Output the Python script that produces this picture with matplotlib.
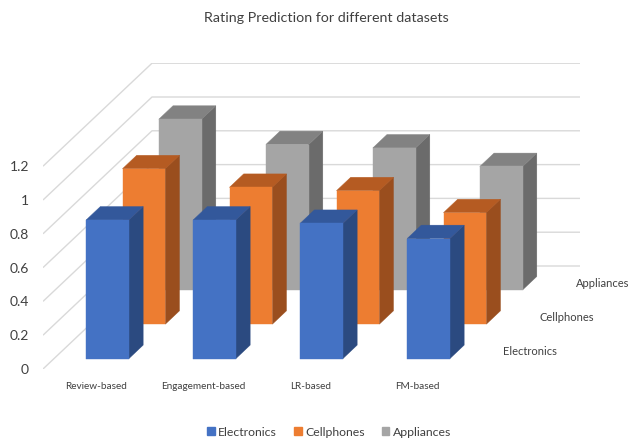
import matplotlib.pyplot as plt
from matplotlib.patches import Polygon, Patch

plt.rcParams['font.family'] = ['Lato', 'DejaVu Sans']

# ---- data ----
categories = ["Review-based", "Engagement-based", "LR-based", "FM-based"]
series = ["Electronics", "Cellphones", "Appliances"]
electronics = [0.82, 0.82, 0.80, 0.71]
cellphones = [0.92, 0.81, 0.79, 0.66]
appliances = [1.01, 0.86, 0.84, 0.73]
y_ticks = [0, 0.2, 0.4, 0.6, 0.8, 1.0, 1.2]
y_tick_labels = ["0", "0.2", "0.4", "0.6", "0.8", "1", "1.2"]

# (front, top, side) shades for each series
face_colors = {
    "Electronics": ("#4472C4", "#33589B", "#2B4A80"),
    "Cellphones": ("#ED7D31", "#B55B22", "#9A4E1E"),
    "Appliances": ("#A5A5A5", "#828282", "#6B6B6B"),
}

# ---- oblique projection of the 3D box ----
DEPTH_X = 109 / 107   # shift in category units for full depth
DEPTH_Y = 103 / 169   # shift in value units for full depth
BAR_W = 0.40
BAR_D = 0.13
GRID_C = "#D9D9D9"
TEXT_C = "#404040"


def proj(x, y, d):
    return (x + d * DEPTH_X, y + d * DEPTH_Y)


fig = plt.figure(figsize=(6.31, 4.40), dpi=100)
ax = fig.add_axes([43 / 631, 71 / 440, 537 / 631, 306 / 440])
ax.set_xlim(0, 537 / 107)
ax.set_ylim(0, 306 / 169)
n_cat = len(categories)

# walls: left side diagonals and back wall lines
for v in y_ticks:
    x0, y0 = proj(0, v, 0)
    x1, y1 = proj(0, v, 1)
    x2, y2 = proj(n_cat, v, 1)
    ax.plot([x0, x1, x2], [y0, y1, y2], color=GRID_C, lw=1.0, zorder=1,
            solid_capstyle="butt")

# bars, back row first
values = {"Electronics": electronics, "Cellphones": cellphones, "Appliances": appliances}
for r in reversed(range(len(series))):
    name = series[r]
    front_c, top_c, side_c = face_colors[name]
    d0 = (r + 0.5) / len(series) - BAR_D / 2
    d1 = d0 + BAR_D
    for i, v in enumerate(values[name]):
        xl = i + 0.5 - BAR_W / 2
        xr = xl + BAR_W
        front = [proj(xl, 0, d0), proj(xr, 0, d0), proj(xr, v, d0), proj(xl, v, d0)]
        top = [proj(xl, v, d0), proj(xr, v, d0), proj(xr, v, d1), proj(xl, v, d1)]
        side = [proj(xr, 0, d0), proj(xr, 0, d1), proj(xr, v, d1), proj(xr, v, d0)]
        z = 10 + (len(series) - r) * 3
        ax.add_patch(Polygon(side, closed=True, fc=side_c, ec=side_c, lw=0.3, zorder=z))
        ax.add_patch(Polygon(top, closed=True, fc=top_c, ec=top_c, lw=0.3, zorder=z + 1))
        ax.add_patch(Polygon(front, closed=True, fc=front_c, ec=front_c, lw=0.3, zorder=z + 2))

    # series name along the right edge of the floor
    lx, ly = proj(n_cat, 0, (r + 0.5) / len(series))
    ax.text(lx + 0.13, ly, name, ha="left", va="center", fontsize=8,
            color=TEXT_C, zorder=30)

# axes text
ax.set_xticks([i + 0.5 for i in range(n_cat)])
ax.set_xticklabels(categories, fontsize=7.2, color=TEXT_C)
ax.set_yticks(y_ticks)
ax.set_yticklabels(y_tick_labels, fontsize=10, color=TEXT_C)
ax.tick_params(axis="x", length=0, pad=9)
ax.tick_params(axis="y", length=0, pad=10)
for s in ax.spines.values():
    s.set_visible(False)

fig.text(0.517, 0.958, "Rating Prediction for different datasets", ha="center",
         va="center", fontsize=10.3, color=TEXT_C)

handles = [Patch(color=face_colors[s][0], label=s) for s in series]
fig.legend(handles=handles, loc="center", bbox_to_anchor=(0.522, 0.018),
           ncol=3, frameon=False, fontsize=8.8, handlelength=0.6, handleheight=0.6,
           handletextpad=0.3, columnspacing=1.4, labelcolor=TEXT_C)

fig.savefig("out.png", dpi=100)
